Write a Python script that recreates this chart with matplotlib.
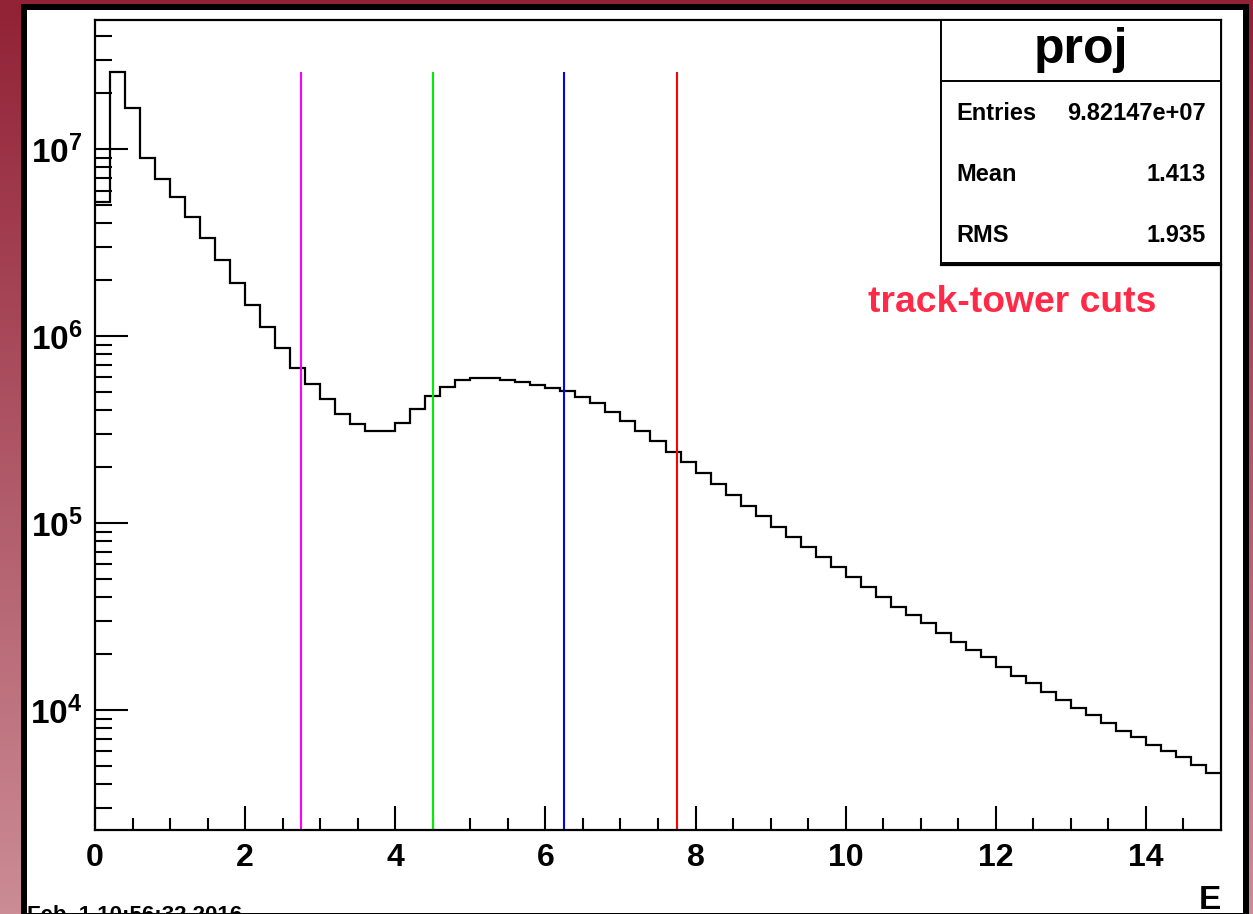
import numpy as np
import matplotlib
matplotlib.use("Agg")
import matplotlib.pyplot as plt
from matplotlib.patches import Rectangle
from matplotlib.ticker import FixedLocator, FuncFormatter, LogLocator, NullFormatter

plt.rcParams['font.family'] = ['Liberation Sans', 'DejaVu Sans']
plt.rcParams['font.weight'] = 'bold'
plt.rcParams['mathtext.fontset'] = 'custom'
plt.rcParams['mathtext.rm'] = 'Liberation Sans:bold'
plt.rcParams['mathtext.bf'] = 'Liberation Sans:bold'
plt.rcParams['mathtext.it'] = 'Liberation Sans:bold'

# ---- data ----
bin_edges = np.linspace(0.0, 15.0, 76)
counts = [
    5.22e6, 2.58e7, 1.65e7, 8.97e6, 6.93e6, 5.52e6, 4.35e6, 3.36e6, 2.56e6, 1.93e6,
    1.47e6, 1.12e6, 8.59e5, 6.71e5, 5.51e5, 4.58e5, 3.83e5, 3.37e5, 3.09e5, 3.10e5,
    3.41e5, 4.06e5, 4.80e5, 5.36e5, 5.82e5, 5.96e5, 5.96e5, 5.82e5, 5.68e5, 5.47e5,
    5.30e5, 5.09e5, 4.73e5, 4.37e5, 3.94e5, 3.51e5, 3.12e5, 2.74e5, 2.41e5, 2.12e5,
    1.86e5, 1.62e5, 1.41e5, 1.24e5, 1.09e5, 9.55e4, 8.45e4, 7.41e4, 6.55e4, 5.79e4,
    5.12e4, 4.53e4, 4.00e4, 3.54e4, 3.21e4, 2.90e4, 2.59e4, 2.32e4, 2.09e4, 1.91e4,
    1.70e4, 1.52e4, 1.40e4, 1.25e4, 1.13e4, 1.02e4, 9.35e3, 8.47e3, 7.74e3, 7.19e3,
    6.50e3, 6.04e3, 5.58e3, 5.06e3, 4.58e3,
]
cut_positions = [2.75, 4.5, 6.25, 7.75]
cut_colors = ['#FF00FF', '#00EE00', '#0000FF', '#FF0000']
x_major_ticks = [0, 2, 4, 6, 8, 10, 12, 14]
stats_names = ['Entries', 'Mean', 'RMS']
stats_values = ['9.82147e+07', '1.413', '1.935']
hist_title = 'proj'
x_label = 'E'
annotation = 'track-tower cuts'
date_text = 'Feb  1 10:56:32 2016'

W, H = 1253, 914
fig = plt.figure(figsize=(W / 100, H / 100), dpi=100)

# background gradient frame
bg = fig.add_axes([0, 0, 1, 1], zorder=-10)
top_c = np.array([146, 34, 54]) / 255.0
bot_c = np.array([203, 140, 150]) / 255.0
t = np.linspace(0, 1, 256)[:, None]
grad = (top_c[None, :] * (1 - t) + bot_c[None, :] * t)[:, None, :]
bg.imshow(grad, aspect='auto', extent=[0, 1, 0, 1], origin='upper')
bg.add_patch(Rectangle((24 / W, 1 - 916 / H), (1246 - 24) / W, (916 - 7) / H,
                       facecolor='white', edgecolor='black', linewidth=4.3,
                       transform=bg.transAxes))
bg.set_xlim(0, 1)
bg.set_ylim(0, 1)
bg.axis('off')

# main axes
ax_l, ax_r, ax_t, ax_b = 95, 1221, 20, 830
ax = fig.add_axes([ax_l / W, 1 - ax_b / H, (ax_r - ax_l) / W, (ax_b - ax_t) / H])
ax.set_yscale('log')
ax.stairs(counts, bin_edges, color='black', linewidth=1.6, baseline=None)

ymin, ymax = 2.28e3, 4.90e7
ax.vlines(cut_positions, ymin, max(counts), colors=cut_colors, linewidth=1.5)
ax.set_xlim(0, 15)
ax.set_ylim(ymin, ymax)

for s in ax.spines.values():
    s.set_linewidth(1.6)

ax.xaxis.set_major_locator(FixedLocator(x_major_ticks))
ax.xaxis.set_minor_locator(FixedLocator(np.arange(0.5, 15.0, 0.5)))
ax.yaxis.set_major_locator(LogLocator(base=10, numticks=20))
ax.yaxis.set_minor_locator(LogLocator(base=10, subs=np.arange(2, 10), numticks=20))
ax.yaxis.set_minor_formatter(NullFormatter())
ax.yaxis.set_major_formatter(FuncFormatter(lambda v, p: r'$10^{%d}$' % int(round(np.log10(v)))))
ax.xaxis.set_major_formatter(FuncFormatter(lambda v, p: '%d' % v))

ax.tick_params(axis='x', which='major', direction='in', length=17.3, width=1.5,
               labelsize=23, pad=9, top=False)
ax.tick_params(axis='x', which='minor', direction='in', length=8.6, width=1.5, top=False)
ax.tick_params(axis='y', which='major', direction='in', length=23.8, width=1.5,
               labelsize=24, pad=9, right=False)
ax.tick_params(axis='y', which='minor', direction='in', length=12.2, width=1.5, right=False)
for lab in ax.get_xticklabels() + ax.get_yticklabels():
    lab.set_fontweight('bold')

# stats box (axes coords)
bx0, bx1 = (941 - ax_l) / (ax_r - ax_l), 1.0
by_top, by_mid, by_bot = 1.0, (ax_b - 81) / (ax_b - ax_t), (ax_b - 263) / (ax_b - ax_t)
ax.add_patch(Rectangle((bx0, by_bot), bx1 - bx0, by_top - by_bot, transform=ax.transAxes,
                       facecolor='white', edgecolor='black', linewidth=1.4,
                       clip_on=False, zorder=5))
ax.plot([bx0, bx1], [by_mid, by_mid], transform=ax.transAxes, color='black',
        linewidth=1.4, clip_on=False, zorder=6)
ax.plot([bx0, bx1], [by_bot - 0.002, by_bot - 0.002], transform=ax.transAxes, color='black',
        linewidth=1.6, clip_on=False, zorder=6)
ax.text((1081 - ax_l) / (ax_r - ax_l), (ax_b - 50) / (ax_b - ax_t), hist_title,
        transform=ax.transAxes, ha='center', va='center', fontsize=36,
        fontweight='bold', zorder=7)
for i, (n, v) in enumerate(zip(stats_names, stats_values)):
    yy = (ax_b - (113 + 61.5 * i)) / (ax_b - ax_t)
    ax.text((956 - ax_l) / (ax_r - ax_l), yy, n, transform=ax.transAxes,
            ha='left', va='center', fontsize=17, fontweight='bold', zorder=7)
    ax.text((1206 - ax_l) / (ax_r - ax_l), yy, v, transform=ax.transAxes,
            ha='right', va='center', fontsize=17, fontweight='bold', zorder=7)

ax.text((868 - ax_l) / (ax_r - ax_l), (ax_b - 303) / (ax_b - ax_t), annotation,
        transform=ax.transAxes, ha='left', va='center', fontsize=26.8,
        fontweight='bold', color='#FF2A48', zorder=7)

# axis title and date
fig.text(1221 / W, 1 - 909 / H, x_label, ha='right', va='baseline', fontsize=24,
         fontweight='bold')
fig.text(27 / W, 1 - 921 / H, date_text, ha='left', va='baseline', fontsize=16,
         fontweight='bold')

fig.savefig('out.png', dpi=100)
